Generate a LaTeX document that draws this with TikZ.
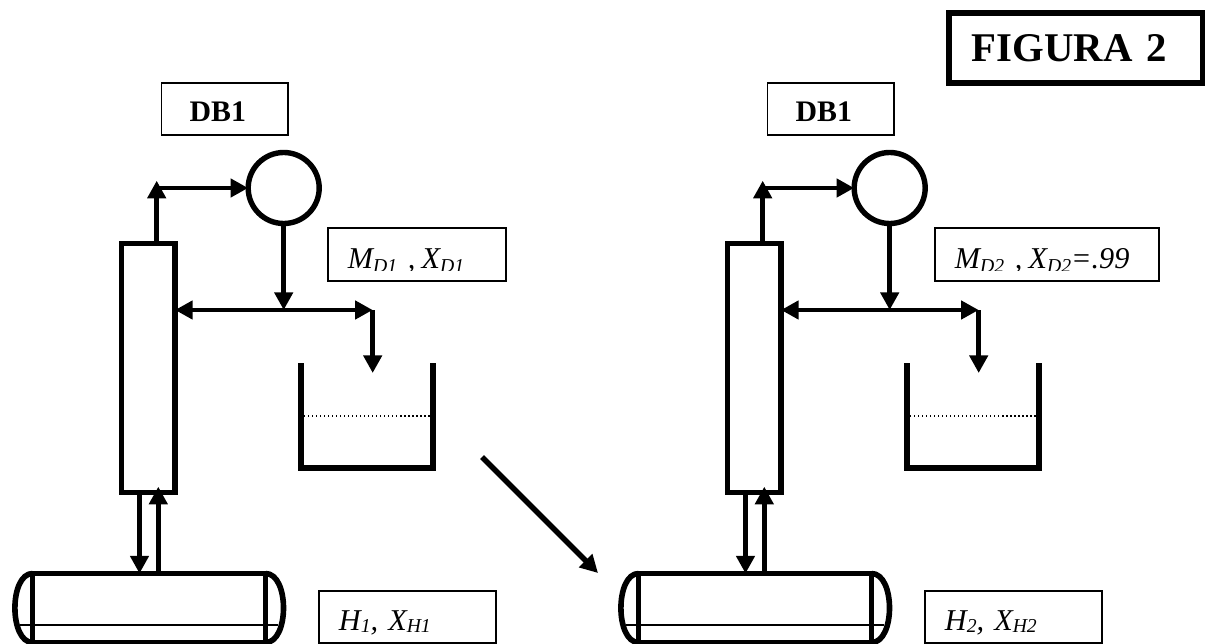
\documentclass[tikz,border=0pt]{standalone}
\usepackage{fontspec}
\usepackage{trimclip}
\setmainfont{Liberation Serif}
\usetikzlibrary{arrows.meta}
\newcommand{\sub}[1]{\raisebox{-1.9pt}{\fontsize{14}{14}\selectfont #1}}
\newcommand{\subd}[1]{\raisebox{-3.3pt}{\fontsize{14}{14}\selectfont #1}}
\newcommand{\cut}[1]{\clipbox{0 1.85pt 0 0}{#1}}
\tikzset{
	bigtip/.tip={Triangle[length=.44cm,width=.45cm]},
	vessel/.style={draw,line width=.135cm,outer sep=0pt,inner sep=0pt},
	flow/.style={line width=.118cm,-bigtip},
	wall/.style={line width=.14cm},
	labelbox/.style={draw,line width=.04cm,inner ysep=0pt,inner xsep=.5cm,align=left,text height=1cm,text depth=.325cm,font=\fontsize{21.5}{24}\selectfont\itshape},
	dbbox/.style={draw,line width=.04cm,inner ysep=0pt,inner xsep=.7cm,align=left,text width=1.76cm,text height=.97cm,text depth=.33cm,font=\fontsize{21.2}{24}\selectfont\bfseries}
}

\begin{document}
\begin{tikzpicture}[x=.025cm,y=-.025cm]
	\useasboundingbox (0,0) rectangle (1205,644);
	\begin{scope}
	\node[dbbox] (db) at (224.8,109) {DB1};
	\node[vessel,circle,minimum size=1.775cm] (cond) at (283.7,188) {};
	\node[vessel,minimum width=1.34cm,minimum height=6.225cm] (col) at (148.2,368) {};
	\node[vessel,minimum width=5.82cm,minimum height=1.725cm] (drum) at (149.1,608) {};
	\node[labelbox,text width=3.45cm] (md) at (417,254.5) {\cut{\textit{M}\subd{D1}\hspace{7.6pt},\hspace{4.4pt}\textit{X}\subd{D1}}};
	\node[labelbox,text width=3.425cm,text height=.975cm] (hx) at (407.5,617) {\textit{H}\sub{1}, \textit{X}\sub{H1}};
	\coordinate (up) at (156.7,180.7);
	\coordinate (jn) at (283.7,310);
	\coordinate (el) at (372.7,310);
	\coordinate (in) at (372.7,373);
	\coordinate (dn) at (139.5,573);
	\coordinate (rb) at (158.3,486.7);
	\draw[flow] (col.north -| up) -- (up);
	\draw[flow] (cond.west -| up) -- (cond.west);
	\draw[flow] (cond.south) -- (jn);
	\draw[flow,bigtip-bigtip] (col.east |- jn) -- (el);
	\draw[flow] (el) -- (in);
	\draw[flow] (col.south -| dn) -- (drum.north -| dn);
	\draw[flow] (drum.north -| rb) -- (rb);
	\draw[wall] (301,363) -- (301,468) -- (433,468) -- (433,363);
	\draw[dotted,line width=.03cm] (304,416) -- (430,416);
	\draw[wall] (drum.north west) .. controls (9,573.5) and (9,642.5) .. (drum.south west);
	\draw[wall] (drum.north east) .. controls (289.5,573.5) and (289.5,642.5) .. (drum.south east);
	\draw[line width=.03cm] (20,625) -- (278,625);
	\end{scope}
	%
	\begin{scope}[shift={(606,0)}]
	\node[dbbox] (db) at (224.8,109) {DB1};
	\node[vessel,circle,minimum size=1.775cm] (cond) at (283.7,188) {};
	\node[vessel,minimum width=1.34cm,minimum height=6.225cm] (col) at (148.2,368) {};
	\node[vessel,minimum width=5.82cm,minimum height=1.725cm] (drum) at (149.1,608) {};
	\node[labelbox,text width=4.6cm] (md) at (441,254.5) {\cut{\textit{M}\subd{D2}\hspace{7.6pt},\hspace{4.4pt}\textit{X}\subd{D2}=.99}};
	\node[labelbox,text width=3.425cm,text height=.975cm] (hx) at (407.5,617) {\textit{H}\sub{2}, \textit{X}\sub{H2}};
	\coordinate (up) at (156.7,180.7);
	\coordinate (jn) at (283.7,310);
	\coordinate (el) at (372.7,310);
	\coordinate (in) at (372.7,373);
	\coordinate (dn) at (139.5,573);
	\coordinate (rb) at (158.3,486.7);
	\draw[flow] (col.north -| up) -- (up);
	\draw[flow] (cond.west -| up) -- (cond.west);
	\draw[flow] (cond.south) -- (jn);
	\draw[flow,bigtip-bigtip] (col.east |- jn) -- (el);
	\draw[flow] (el) -- (in);
	\draw[flow] (col.south -| dn) -- (drum.north -| dn);
	\draw[flow] (drum.north -| rb) -- (rb);
	\draw[wall] (301,363) -- (301,468) -- (433,468) -- (433,363);
	\draw[dotted,line width=.03cm] (304,416) -- (430,416);
	\draw[wall] (drum.north west) .. controls (9,573.5) and (9,642.5) .. (drum.south west);
	\draw[wall] (drum.north east) .. controls (289.5,573.5) and (289.5,642.5) .. (drum.south east);
	\draw[line width=.03cm] (20,625) -- (278,625);
	\end{scope}
	%
	\coordinate (from) at (482,457);
	\coordinate (to) at (598,573);
	\draw[flow,line width=.14cm] (from) -- (to);
	\node[draw,line width=.15cm,inner ysep=0pt,inner xsep=.575cm,text width=5.2cm,align=left,minimum height=1.74cm,font=\fontsize{29}{32}\selectfont\bfseries] (fig) at (1076,48) {FIGURA 2};
\end{tikzpicture}
\end{document}
